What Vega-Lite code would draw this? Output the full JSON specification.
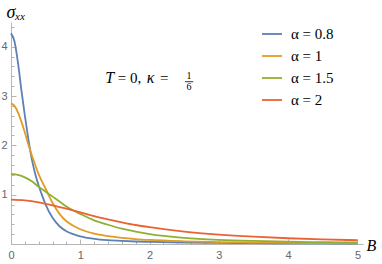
{
  "$schema": "https://vega.github.io/schema/vega-lite/v6.json",
  "width": 352,
  "height": 222,
  "autosize": {"type": "none"},
  "padding": {"left": 11, "top": 22, "right": 19, "bottom": 20},
  "background": "white",
  "config": {
    "view": {"stroke": null},
    "axis": {
      "grid": false,
      "domainColor": "#b5b5b5",
      "tickColor": "#b5b5b5",
      "labelColor": "#666666",
      "labelFont": "Liberation Sans",
      "labelFontSize": 11,
      "labelOverlap": false,
      "labelFlush": false
    }
  },
  "datasets": {
    "curves": [
      {"B": 0, "s": 4.27, "a": "α = 0.8"},
      {"B": 0.05, "s": 4.11, "a": "α = 0.8"},
      {"B": 0.1, "s": 3.68, "a": "α = 0.8"},
      {"B": 0.15, "s": 3.12, "a": "α = 0.8"},
      {"B": 0.2, "s": 2.6, "a": "α = 0.8"},
      {"B": 0.25, "s": 2.13, "a": "α = 0.8"},
      {"B": 0.3, "s": 1.72, "a": "α = 0.8"},
      {"B": 0.35, "s": 1.42, "a": "α = 0.8"},
      {"B": 0.4, "s": 1.18, "a": "α = 0.8"},
      {"B": 0.45, "s": 0.98, "a": "α = 0.8"},
      {"B": 0.5, "s": 0.8, "a": "α = 0.8"},
      {"B": 0.6, "s": 0.53, "a": "α = 0.8"},
      {"B": 0.7, "s": 0.36, "a": "α = 0.8"},
      {"B": 0.8, "s": 0.26, "a": "α = 0.8"},
      {"B": 0.9, "s": 0.2, "a": "α = 0.8"},
      {"B": 1.0, "s": 0.155, "a": "α = 0.8"},
      {"B": 1.2, "s": 0.105, "a": "α = 0.8"},
      {"B": 1.4, "s": 0.078, "a": "α = 0.8"},
      {"B": 1.6, "s": 0.062, "a": "α = 0.8"},
      {"B": 1.8, "s": 0.051, "a": "α = 0.8"},
      {"B": 2.0, "s": 0.043, "a": "α = 0.8"},
      {"B": 2.5, "s": 0.03, "a": "α = 0.8"},
      {"B": 3.0, "s": 0.022, "a": "α = 0.8"},
      {"B": 3.5, "s": 0.017, "a": "α = 0.8"},
      {"B": 4.0, "s": 0.013, "a": "α = 0.8"},
      {"B": 4.5, "s": 0.011, "a": "α = 0.8"},
      {"B": 5.0, "s": 0.009, "a": "α = 0.8"},

      {"B": 0, "s": 2.85, "a": "α = 1"},
      {"B": 0.05, "s": 2.8, "a": "α = 1"},
      {"B": 0.1, "s": 2.67, "a": "α = 1"},
      {"B": 0.15, "s": 2.48, "a": "α = 1"},
      {"B": 0.2, "s": 2.26, "a": "α = 1"},
      {"B": 0.25, "s": 2.02, "a": "α = 1"},
      {"B": 0.3, "s": 1.8, "a": "α = 1"},
      {"B": 0.35, "s": 1.6, "a": "α = 1"},
      {"B": 0.4, "s": 1.41, "a": "α = 1"},
      {"B": 0.45, "s": 1.26, "a": "α = 1"},
      {"B": 0.5, "s": 1.12, "a": "α = 1"},
      {"B": 0.6, "s": 0.83, "a": "α = 1"},
      {"B": 0.7, "s": 0.61, "a": "α = 1"},
      {"B": 0.8, "s": 0.46, "a": "α = 1"},
      {"B": 0.9, "s": 0.37, "a": "α = 1"},
      {"B": 1.0, "s": 0.3, "a": "α = 1"},
      {"B": 1.2, "s": 0.21, "a": "α = 1"},
      {"B": 1.4, "s": 0.16, "a": "α = 1"},
      {"B": 1.6, "s": 0.125, "a": "α = 1"},
      {"B": 1.8, "s": 0.1, "a": "α = 1"},
      {"B": 2.0, "s": 0.082, "a": "α = 1"},
      {"B": 2.5, "s": 0.055, "a": "α = 1"},
      {"B": 3.0, "s": 0.039, "a": "α = 1"},
      {"B": 3.5, "s": 0.029, "a": "α = 1"},
      {"B": 4.0, "s": 0.023, "a": "α = 1"},
      {"B": 4.5, "s": 0.018, "a": "α = 1"},
      {"B": 5.0, "s": 0.015, "a": "α = 1"},

      {"B": 0, "s": 1.42, "a": "α = 1.5"},
      {"B": 0.1, "s": 1.4, "a": "α = 1.5"},
      {"B": 0.2, "s": 1.35, "a": "α = 1.5"},
      {"B": 0.3, "s": 1.27, "a": "α = 1.5"},
      {"B": 0.4, "s": 1.16, "a": "α = 1.5"},
      {"B": 0.5, "s": 1.06, "a": "α = 1.5"},
      {"B": 0.6, "s": 0.96, "a": "α = 1.5"},
      {"B": 0.7, "s": 0.86, "a": "α = 1.5"},
      {"B": 0.8, "s": 0.76, "a": "α = 1.5"},
      {"B": 0.9, "s": 0.68, "a": "α = 1.5"},
      {"B": 1.0, "s": 0.61, "a": "α = 1.5"},
      {"B": 1.2, "s": 0.48, "a": "α = 1.5"},
      {"B": 1.4, "s": 0.39, "a": "α = 1.5"},
      {"B": 1.6, "s": 0.31, "a": "α = 1.5"},
      {"B": 1.8, "s": 0.25, "a": "α = 1.5"},
      {"B": 2.0, "s": 0.2, "a": "α = 1.5"},
      {"B": 2.5, "s": 0.125, "a": "α = 1.5"},
      {"B": 3.0, "s": 0.085, "a": "α = 1.5"},
      {"B": 3.5, "s": 0.062, "a": "α = 1.5"},
      {"B": 4.0, "s": 0.047, "a": "α = 1.5"},
      {"B": 4.5, "s": 0.037, "a": "α = 1.5"},
      {"B": 5.0, "s": 0.03, "a": "α = 1.5"},

      {"B": 0, "s": 0.9, "a": "α = 2"},
      {"B": 0.2, "s": 0.885, "a": "α = 2"},
      {"B": 0.4, "s": 0.845, "a": "α = 2"},
      {"B": 0.6, "s": 0.785, "a": "α = 2"},
      {"B": 0.8, "s": 0.715, "a": "α = 2"},
      {"B": 1.0, "s": 0.64, "a": "α = 2"},
      {"B": 1.2, "s": 0.565, "a": "α = 2"},
      {"B": 1.4, "s": 0.5, "a": "α = 2"},
      {"B": 1.6, "s": 0.44, "a": "α = 2"},
      {"B": 1.8, "s": 0.385, "a": "α = 2"},
      {"B": 2.0, "s": 0.34, "a": "α = 2"},
      {"B": 2.5, "s": 0.25, "a": "α = 2"},
      {"B": 3.0, "s": 0.19, "a": "α = 2"},
      {"B": 3.5, "s": 0.148, "a": "α = 2"},
      {"B": 4.0, "s": 0.117, "a": "α = 2"},
      {"B": 4.5, "s": 0.094, "a": "α = 2"},
      {"B": 5.0, "s": 0.077, "a": "α = 2"}
    ]
  },
  "resolve": {"axis": {"x": "independent", "y": "independent"}},
  "layer": [
    {
      "data": {"values": [{}]},
      "mark": {"type": "point", "opacity": 0},
      "encoding": {
        "x": {
          "datum": 0, "type": "quantitative",
          "scale": {"domain": [0, 5.08], "nice": false, "zero": false},
          "axis": {
            "orient": "bottom",
            "values": [0.2,0.4,0.6,0.8,1.2,1.4,1.6,1.8,2.2,2.4,2.6,2.8,3.2,3.4,3.6,3.8,4.2,4.4,4.6,4.8],
            "labels": false, "domain": false, "tickSize": -3, "title": null
          }
        },
        "y": {
          "datum": 0, "type": "quantitative",
          "scale": {"domain": [0, 4.5], "nice": false},
          "axis": {
            "orient": "left",
            "values": [0.2,0.4,0.6,0.8,1.2,1.4,1.6,1.8,2.2,2.4,2.6,2.8,3.2,3.4,3.6,3.8,4.2,4.4],
            "labels": false, "domain": false, "tickSize": -3, "title": null
          }
        }
      }
    },
    {
      "data": {"name": "curves"},
      "mark": {"type": "line", "strokeWidth": 1.8, "interpolate": "monotone"},
      "encoding": {
        "x": {
          "field": "B", "type": "quantitative",
          "axis": {
            "orient": "bottom",
            "values": [0, 1, 2, 3, 4, 5],
            "tickSize": -5,
            "labelPadding": 10,
            "title": "B",
            "titleFont": "Liberation Serif",
            "titleFontStyle": "italic",
            "titleFontWeight": "normal",
            "titleFontSize": 16,
            "titleColor": "#000000",
            "titleAlign": "left",
            "titleBaseline": "alphabetic",
            "titleAngle": 0,
            "titleX": 355,
            "titleY": 6
          }
        },
        "y": {
          "field": "s", "type": "quantitative",
          "axis": {
            "orient": "left",
            "values": [1, 2, 3, 4],
            "tickSize": -5,
            "labelPadding": 9,
            "title": "σₓₓ",
            "titleFont": "Liberation Serif",
            "titleFontStyle": "italic",
            "titleFontWeight": "normal",
            "titleFontSize": 18,
            "titleColor": "#000000",
            "titleAngle": 0,
            "titleAlign": "left",
            "titleBaseline": "alphabetic",
            "titleX": -5,
            "titleY": -5
          }
        },
        "color": {
          "field": "a", "type": "nominal",
          "scale": {
            "domain": ["α = 0.8", "α = 1", "α = 1.5", "α = 2"],
            "range": ["#5E81B5", "#E19C24", "#8FB032", "#EB6235"]
          },
          "legend": {
            "orient": "none",
            "legendX": 250,
            "legendY": 1,
            "title": null,
            "symbolType": "stroke",
            "symbolSize": 400,
            "symbolStrokeWidth": 1.8,
            "labelFont": "Liberation Serif",
            "labelFontSize": 15,
            "labelColor": "#000000",
            "labelOffset": 8,
            "rowPadding": 3
          }
        }
      }
    },
    {
      "data": {"values": [{}]},
      "mark": {"type": "text", "text": "T", "font": "Liberation Serif", "fontStyle": "italic", "fontSize": 16, "align": "left", "baseline": "alphabetic", "color": "#000000"},
      "encoding": {"x": {"datum": 1.36, "type": "quantitative", "axis": null}, "y": {"datum": 3.26, "type": "quantitative", "axis": null}}
    },
    {
      "data": {"values": [{}]},
      "mark": {"type": "text", "text": "= 0,", "font": "Liberation Serif", "fontSize": 15, "align": "left", "baseline": "alphabetic", "color": "#000000"},
      "encoding": {"x": {"datum": 1.54, "type": "quantitative", "axis": null}, "y": {"datum": 3.26, "type": "quantitative", "axis": null}}
    },
    {
      "data": {"values": [{}]},
      "mark": {"type": "text", "text": "κ", "font": "Liberation Serif", "fontStyle": "italic", "fontSize": 16, "align": "left", "baseline": "alphabetic", "color": "#000000"},
      "encoding": {"x": {"datum": 1.96, "type": "quantitative", "axis": null}, "y": {"datum": 3.26, "type": "quantitative", "axis": null}}
    },
    {
      "data": {"values": [{}]},
      "mark": {"type": "text", "text": "=", "font": "Liberation Serif", "fontSize": 15, "align": "left", "baseline": "alphabetic", "color": "#000000"},
      "encoding": {"x": {"datum": 2.15, "type": "quantitative", "axis": null}, "y": {"datum": 3.26, "type": "quantitative", "axis": null}}
    },
    {
      "data": {"values": [{}]},
      "mark": {"type": "text", "text": "1", "font": "Liberation Serif", "fontSize": 10, "align": "center", "baseline": "alphabetic", "color": "#000000"},
      "encoding": {"x": {"datum": 2.57, "type": "quantitative", "axis": null}, "y": {"datum": 3.345, "type": "quantitative", "axis": null}}
    },
    {
      "data": {"values": [{}]},
      "mark": {"type": "text", "text": "6", "font": "Liberation Serif", "fontSize": 10, "align": "center", "baseline": "alphabetic", "color": "#000000"},
      "encoding": {"x": {"datum": 2.57, "type": "quantitative", "axis": null}, "y": {"datum": 3.125, "type": "quantitative", "axis": null}}
    },
    {
      "data": {"values": [{}]},
      "mark": {"type": "rule", "color": "#000000", "strokeWidth": 0.8},
      "encoding": {"x": {"datum": 2.51, "type": "quantitative", "axis": null}, "x2": {"datum": 2.63}, "y": {"datum": 3.29, "type": "quantitative", "axis": null}}
    }
  ]
}
